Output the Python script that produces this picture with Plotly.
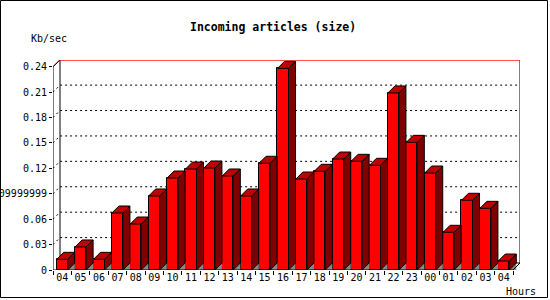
import plotly.graph_objects as go

# ---- data ----
hours = ["04", "05", "06", "07", "08", "09", "10", "11", "12", "13", "14", "15", "16",
         "17", "18", "19", "20", "21", "22", "23", "00", "01", "02", "03", "04"]
values = [0.0126, 0.0272, 0.0126, 0.0673, 0.0543, 0.0874, 0.1086, 0.1192, 0.1204, 0.111,
          0.0874, 0.126, 0.238, 0.1074, 0.1165, 0.131, 0.1283, 0.1236, 0.209, 0.1507,
          0.1145, 0.0445, 0.0823, 0.0728, 0.0106]
ytick_vals = [0, 0.03, 0.06, 0.09, 0.12, 0.15, 0.18, 0.21, 0.24]
ytick_text = ["0", "0.03", "0.06", "0.09999999", "0.12", "0.15", "0.18", "0.21", "0.24"]

# ---- geometry / style ----
W, H = 550, 300
ML, MR, MT, MB = 53, 30, 60, 30
pw, ph = W - ML - MR, H - MT - MB
n = len(values)
slot_px = 18.4
x0r = -0.5
x1r = x0r + pw / slot_px
ytop = 0.24 * ph / 203.3
ppu = ph / ytop
dx = 7 / slot_px
dy = 7 / ppu
hw = 0.3
FONT = "DejaVu Sans Mono"

fig = go.Figure()

# front faces
xs = list(range(n))
fig.add_trace(go.Bar(x=xs, y=values, width=2 * hw, marker=dict(color="#ff0000", line=dict(color="black", width=1)),
                     hoverinfo="skip"))

# side, top, shadow polygons
side_x, side_y, top_x, top_y, sh_x, sh_y = [], [], [], [], [], []
for i, v in enumerate(values):
    r = i + hw
    l = i - hw
    side_x += [r, r + dx, r + dx, r, r, None]
    side_y += [0, dy, v + dy, v, 0, None]
    top_x += [l, l + dx, r + dx, r, l, None]
    top_y += [v, v + dy, v + dy, v, v, None]
    sh_x += [r, r + dx, r + dx, r, None]
    sh_y += [0, dy, 0, 0, None]

fig.add_trace(go.Scatter(x=sh_x, y=sh_y, fill="toself", fillcolor="#888888", mode="lines",
                         line=dict(color="#888888", width=0), hoverinfo="skip"))
fig.add_trace(go.Scatter(x=side_x, y=side_y, fill="toself", fillcolor="#800000", mode="lines",
                         line=dict(color="black", width=1), hoverinfo="skip"))
fig.add_trace(go.Scatter(x=top_x, y=top_y, fill="toself", fillcolor="#c00000", mode="lines",
                         line=dict(color="black", width=1), hoverinfo="skip"))

shapes = []
# gridlines (dotted, back wall + diagonal)
for v in ytick_vals[1:-1]:
    shapes.append(dict(type="path", layer="below", xref="x", yref="y",
                       path=f"M {x0r},{v} L {x0r+dx},{v+dy} L {n-0.5+dx},{v+dy}",
                       line=dict(color="black", width=1, dash="2px,3px")))
# back wall edges
shapes.append(dict(type="line", layer="below", xref="x", yref="y", x0=x0r + dx, x1=x0r + dx, y0=dy, y1=0.24 + dy,
                   line=dict(color="black", width=1)))
shapes.append(dict(type="line", layer="below", xref="x", yref="y", x0=n - 0.5 + dx, x1=n - 0.5 + dx, y0=dy, y1=0.24 + dy,
                   line=dict(color="black", width=1)))
shapes.append(dict(type="line", layer="below", xref="x", yref="y", x0=x0r + dx, x1=n - 0.5 + dx, y0=dy, y1=dy,
                   line=dict(color="black", width=1)))
# top edge black + red
shapes.append(dict(type="line", layer="below", xref="x", yref="y", x0=x0r + dx, x1=n - 0.5 + dx, y0=0.24 + dy + 0.8 / ppu,
                   y1=0.24 + dy + 0.8 / ppu, line=dict(color="black", width=1)))
shapes.append(dict(type="path", layer="below", xref="x", yref="y",
                   path=f"M {x0r},{0.24} L {x0r+dx},{0.24+dy-0.5/ppu} L {n-0.5+dx},{0.24+dy-0.5/ppu}",
                   line=dict(color="#ff0000", width=1)))
# front y axis line and diagonal
shapes.append(dict(type="path", xref="x", yref="y",
                   path=f"M {x0r},0 L {x0r},0.24 L {x0r+dx},{0.24+dy}",
                   line=dict(color="black", width=1)))
# floor right diagonal and front x axis
shapes.append(dict(type="path", xref="x", yref="y",
                   path=f"M {x0r},0 L {n-0.5},0 L {n-0.5+dx},{dy}",
                   line=dict(color="black", width=1)))
# outer border
shapes.append(dict(type="rect", xref="paper", yref="paper",
                   x0=(0.5 - ML) / pw, x1=(547.5 - ML) / pw,
                   y0=(MT + ph - 297.5) / ph, y1=(MT + ph - 0.5) / ph,
                   line=dict(color="black", width=1)))

annotations = [
    dict(text="<b>Incoming articles (size)</b>", xref="paper", yref="paper",
         x=(273 - ML) / pw, y=(MT + ph - 27) / ph, xanchor="center", yanchor="middle", showarrow=False,
         font=dict(family=FONT, size=11.5, color="black")),
    dict(text="Kb/sec", xref="paper", yref="paper",
         x=(29 - ML) / pw, y=(MT + ph - 38.5) / ph, xanchor="left", yanchor="middle", showarrow=False,
         font=dict(family=FONT, size=10, color="black")),
    dict(text="Hours", xref="paper", yref="paper",
         x=(504 - ML) / pw, y=(MT + ph - 291.5) / ph, xanchor="left", yanchor="middle", showarrow=False,
         font=dict(family=FONT, size=10, color="black")),
]

fig.update_layout(
    width=W, height=H, margin=dict(l=ML, r=MR, t=MT, b=MB, pad=0, autoexpand=False),
    paper_bgcolor="white", plot_bgcolor="white", showlegend=False,
    shapes=shapes, annotations=annotations, bargap=0,
    xaxis=dict(range=[x0r, x1r], tickvals=xs, ticktext=hours, ticks="", showgrid=False, zeroline=False,
               showline=False, automargin=False, tickfont=dict(family=FONT, size=10, color="black"),
               fixedrange=True),
    xaxis2=dict(range=[x0r, x1r], overlaying="x", side="bottom", anchor="y", automargin=False,
                tickvals=[i - 0.5 for i in range(n + 1)], ticks="outside", ticklen=4, tickcolor="black",
                showticklabels=False, showgrid=False, zeroline=False, showline=False),
    yaxis=dict(range=[0, ytop], tickvals=ytick_vals, ticktext=ytick_text, ticks="outside", ticklen=3,
               tickcolor="black", showgrid=False, zeroline=False, showline=False, automargin=False,
               tickfont=dict(family=FONT, size=10, color="black"), fixedrange=True),
)
# dummy trace to activate xaxis2 ticks
fig.add_trace(go.Scatter(x=[x0r], y=[0], xaxis="x2", mode="markers", marker=dict(opacity=0), hoverinfo="skip"))

fig.write_html("out.html")
